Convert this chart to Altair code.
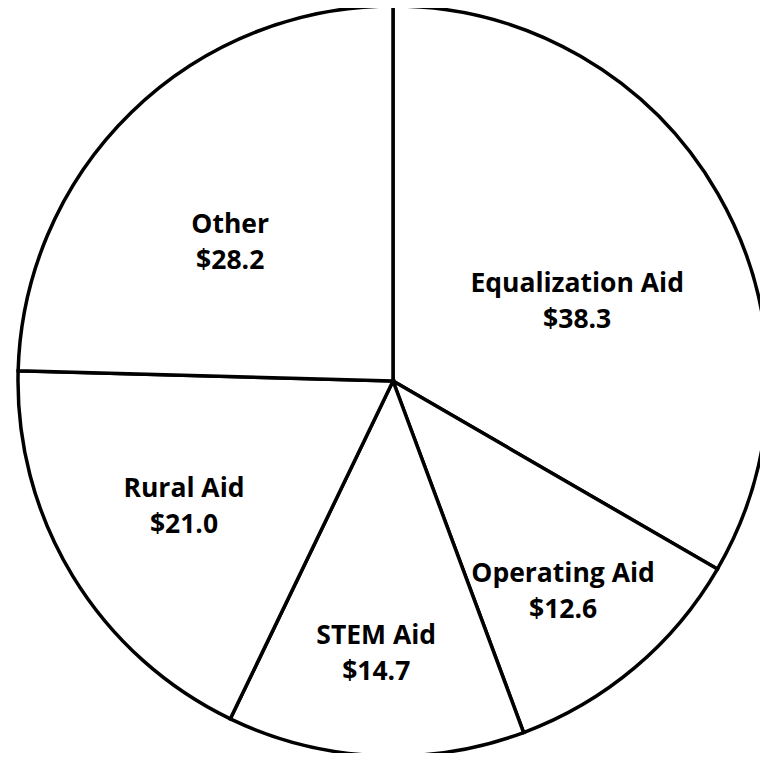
import altair as alt
import pandas as pd

categories = ["Equalization Aid", "Operating Aid", "STEM Aid", "Rural Aid", "Other"]
values = [38.3, 12.6, 14.7, 21.0, 28.2]
value_labels = ["$38.3", "$12.6", "$14.7", "$21.0", "$28.2"]

# label placement (layout, not data): distance from centre and angular nudge in degrees
label_radius = [202, 268, 270, 242, 216]
label_shift = [5.7, 0.75, 0.9, 1.1, -4.7]

df = pd.DataFrame({
    "category": categories,
    "value": values,
    "order": list(range(len(categories))),
    "label": [f"{c}\n{v}" for c, v in zip(categories, value_labels)],
    "lr": label_radius,
    "shift": label_shift,
})

CX, CY, R = 385, 373, 375
LY = 377
LH = 36

pie = alt.Chart(df).mark_arc(
    fill="white", stroke="black", strokeWidth=3.5, radius=R,
).encode(
    theta=alt.Theta("value:Q", stack=True),
    order=alt.Order("order:Q"),
    x=alt.value(CX), y=alt.value(CY),
)

labels = alt.Chart(df).transform_joinaggregate(
    total="sum(value)"
).transform_window(
    cum="sum(value)", sort=[alt.SortField("order")],
    frame=[None, 0],
).transform_calculate(
    mid="(datum.cum - datum.value / 2) / datum.total * 2 * PI + datum.shift * PI / 180",
).mark_text(
    font="Open Sans", fontWeight="bold", fontSize=26.5, lineBreak="\n",
    lineHeight=LH, dy=-LH / 2, color="black", align="center", baseline="middle",
).encode(
    theta=alt.Theta("mid:Q", scale=None),
    radius=alt.Radius("lr:Q", scale=None),
    x=alt.value(CX), y=alt.value(LY),
    text="label:N",
)

chart = alt.layer(pie, labels).properties(
    width=752, height=745, padding=0,
    autosize=alt.AutoSizeParams(type="none"),
    background="white",
).configure_view(stroke=None)

chart.save("out.html", embed_options={"renderer": "svg", "actions": False})
